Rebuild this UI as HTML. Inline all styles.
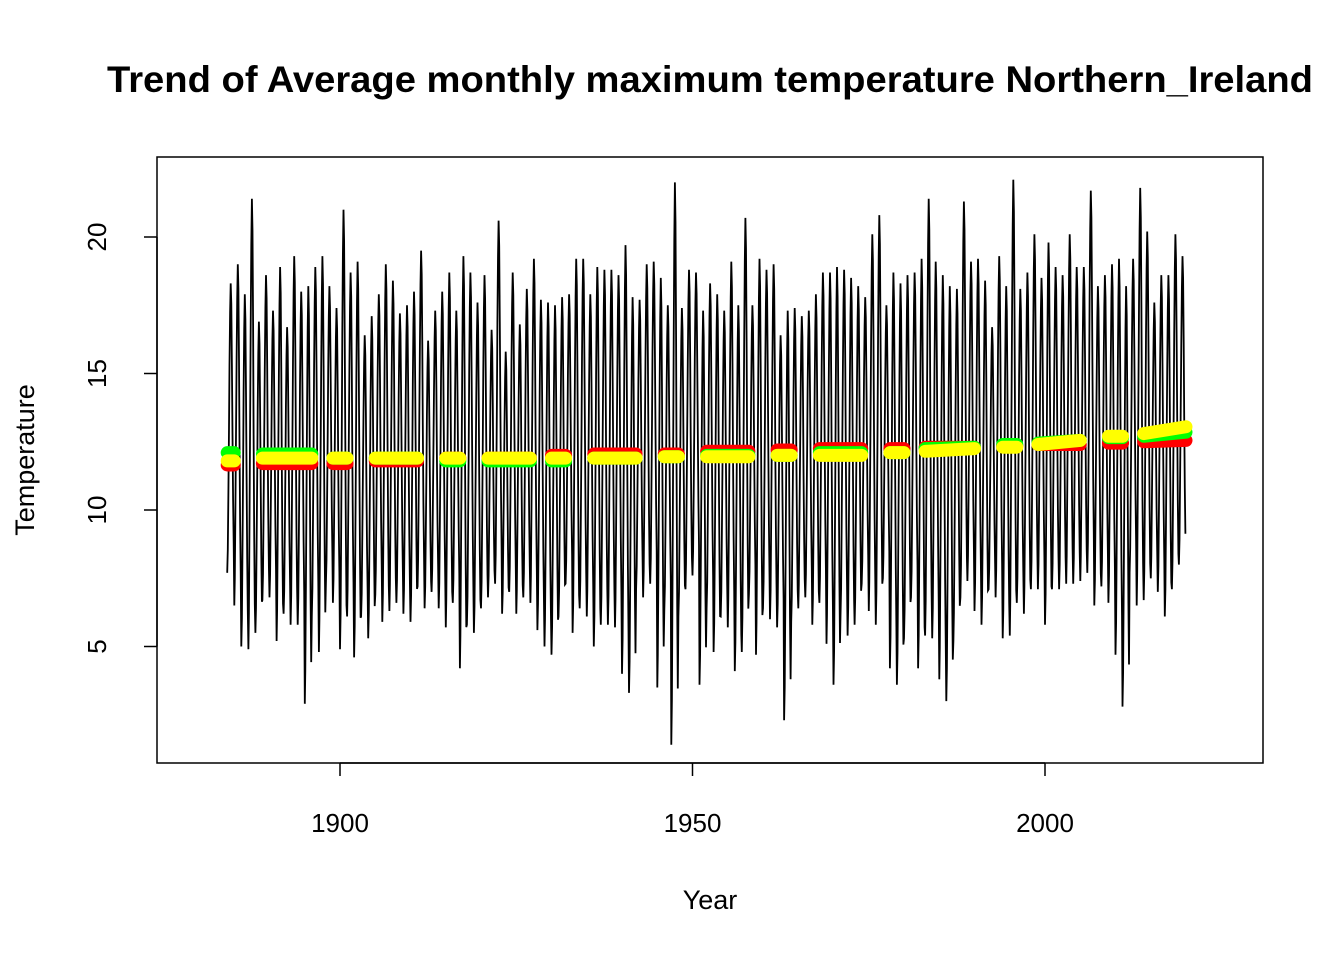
<!DOCTYPE html>
<html><head><meta charset="utf-8"><style>
html,body{margin:0;padding:0;background:#fff;}
svg{display:block;font-family:"Liberation Sans",Arial,sans-serif;}
</style></head><body>
<svg id="chart" width="1344" height="960" viewBox="0 0 1344 960">
<text x="710" y="92" text-anchor="middle" font-size="37.5" font-weight="bold" textLength="1206" lengthAdjust="spacingAndGlyphs">Trend of Average monthly maximum temperature Northern_Ireland</text>
<rect x="157" y="157" width="1106" height="606" fill="none" stroke="#000" stroke-width="1.5"/>
<g id="series"></g>
<g id="axes"></g>
<text x="710" y="909" text-anchor="middle" font-size="27">Year</text>
<text transform="translate(34,460) rotate(-90)" text-anchor="middle" font-size="27">Temperature</text>
</svg>
<script>
const firstYear = 1884;
const summerPeaks = [
18.3,19.0,17.9,21.4,16.9,18.6,17.3,18.9,16.7,19.3,
18.0,18.2,18.9,19.3,18.2,17.4,21.0,18.7,19.1,16.4,
17.1,17.9,19.0,18.4,17.2,17.5,18.0,19.5,16.2,17.3,
18.0,18.7,17.3,19.3,18.7,17.6,18.6,16.6,20.6,15.8,
18.7,16.8,18.1,19.2,17.7,17.6,17.5,17.8,17.9,19.2,
19.2,17.9,18.9,18.8,18.8,18.6,19.7,17.8,17.7,19.0,
19.1,18.5,17.5,22.0,17.4,18.8,18.7,17.3,18.3,17.9,
17.3,19.1,17.5,20.7,17.5,19.2,18.8,19.0,16.4,17.3,
17.4,17.1,17.3,17.9,18.7,18.7,18.9,18.8,18.5,18.2,
17.8,20.1,20.8,17.5,18.7,18.3,18.6,18.7,19.2,21.4,
19.1,18.6,18.2,18.1,21.3,19.1,19.2,18.4,16.7,19.3,
18.2,22.1,18.1,18.7,20.1,18.5,19.8,18.9,18.6,20.1,
18.9,18.9,21.7,18.2,18.6,19.0,19.2,18.2,19.2,21.8,
20.2,17.6,18.6,18.6,20.1,19.3];
const winterTroughs = [
7.7,6.5,5.0,4.9,5.5,6.7,6.8,5.2,6.2,5.8,
5.8,2.9,6.1,4.8,7.3,6.6,4.9,6.1,4.6,6.1,
5.3,6.9,5.9,6.3,6.6,6.2,5.9,7.2,6.4,7.0,
6.4,5.7,6.6,4.2,5.8,5.5,6.4,6.8,7.3,6.2,
7.0,6.2,6.8,6.6,5.6,5.0,4.7,6.1,7.3,5.5,
6.4,6.1,5.0,5.8,5.8,5.7,4.0,3.3,7.1,6.8,
7.3,3.5,6.3,1.4,6.1,7.1,7.6,3.6,6.4,4.8,
6.1,5.7,4.1,4.8,6.9,4.7,6.4,6.0,5.7,2.3,
5.9,6.4,6.8,5.8,6.6,5.1,3.6,6.1,5.4,5.8,
7.3,6.3,5.8,7.5,4.2,3.6,5.3,6.8,4.2,5.4,
5.3,3.8,3.0,5.2,6.8,7.4,6.3,5.8,7.1,6.8,
5.3,5.4,6.6,6.2,7.1,7.1,5.8,7.1,7.1,7.3,
7.3,7.4,7.7,6.5,7.2,6.6,4.7,2.8,7.7,6.5,
6.7,7.5,7.0,6.1,7.1,8.0];
const segStart = [1884,1889,1899,1905,1915,1921,1930,1936,1946,1952,1962,1968,1978,1983,1994,1999,2009,2014];
const segEnd   = [1885,1896,1901,1911,1917,1927,1932,1942,1948,1958,1964,1974,1980,1990,1996,2005,2011,2020];
const redStart = [11.65,11.7,11.7,11.8,11.9,11.9,12.0,12.05,12.05,12.15,12.2,12.25,12.25,12.3,12.35,12.4,12.45,12.5];
const redEnd   = [11.65,11.7,11.7,11.8,11.9,11.9,12.0,12.05,12.05,12.15,12.2,12.25,12.25,12.3,12.35,12.4,12.45,12.55];
const greenStart = [12.1,12.05,11.9,11.9,11.8,11.8,11.8,11.9,11.95,12.0,12.0,12.1,12.1,12.25,12.4,12.45,12.65,12.7];
const greenEnd   = [12.1,12.05,11.9,11.9,11.8,11.8,11.8,11.9,11.95,12.0,12.0,12.1,12.1,12.3,12.4,12.55,12.65,12.85];
const yellowStart = [11.8,11.9,11.9,11.9,11.9,11.9,11.9,11.9,11.95,11.95,12.0,12.0,12.1,12.15,12.3,12.4,12.7,12.8];
const yellowEnd   = [11.8,11.9,11.9,11.9,11.9,11.9,11.9,11.9,11.95,11.95,12.0,12.0,12.1,12.25,12.3,12.55,12.7,13.05];
const xTicks = [1900,1950,2000];
const yTicks = [5,10,15,20];

const NS = "http://www.w3.org/2000/svg";
const xScale = y => 340 + (y - 1900) * 7.05;
const yScale = v => 510 - (v - 10) * 27.3;
const series = document.getElementById('series');
const axes = document.getElementById('axes');
function mk(tag, attrs, parent){const e=document.createElementNS(NS,tag);for(const k in attrs)e.setAttribute(k,attrs[k]);parent.appendChild(e);return e;}

// seasonal shape between each year's trough and peak (monthly points)
const season = [0,0.08,0.28,0.5,0.72,0.9,1,0.93,0.72,0.48,0.25,0.1];
let pts = [];
const n = Math.min(summerPeaks.length, winterTroughs.length);
for (let i = 0; i < n; i++) {
  const yr = firstYear + i;
  const lo = winterTroughs[i], hi = summerPeaks[i];
  for (let m = 0; m < 12; m++) {
    const v = lo + (hi - lo) * season[m];
    pts.push(xScale(yr + m / 12).toFixed(1) + ',' + yScale(v).toFixed(1));
  }
}
const line = mk('polyline', {points: pts.join(' '), fill:'none', stroke:'#000', 'stroke-width':1.8, 'stroke-linejoin':'miter'}, series);



// trend segments
const trendSets = [['red', redStart, redEnd], ['#00ff00', greenStart, greenEnd], ['yellow', yellowStart, yellowEnd]];
trendSets.forEach(([col, s, e]) => {
  for (let i = 0; i < segStart.length; i++) {
    const l = mk('line', {x1: xScale(segStart[i]), x2: xScale(segEnd[i]), y1: yScale(s[i]), y2: yScale(e[i]), stroke: col, 'stroke-width': 13, 'stroke-linecap': 'round'}, series);
    
    
  }
});

// axes
mk('line', {x1: xScale(1900), x2: xScale(2000), y1: 763, y2: 763, stroke:'#000','stroke-width':1.5}, axes);
xTicks.forEach(t => {
  mk('line', {x1: xScale(t), x2: xScale(t), y1: 763, y2: 776, stroke:'#000','stroke-width':1.5}, axes);
  const tx = mk('text', {x: xScale(t), y: 832, 'text-anchor':'middle', 'font-size':26}, axes);
  tx.textContent = t;
  
  
});
mk('line', {x1: 157, x2: 157, y1: yScale(5), y2: yScale(20), stroke:'#000','stroke-width':1.5}, axes);
yTicks.forEach(t => {
  mk('line', {x1: 144, x2: 157, y1: yScale(t), y2: yScale(t), stroke:'#000','stroke-width':1.5}, axes);
  const tx = mk('text', {transform: 'translate(106,' + yScale(t) + ') rotate(-90)', 'text-anchor':'middle', 'font-size':26}, axes);
  tx.textContent = t;
  
  
});
</script>
</body></html>
